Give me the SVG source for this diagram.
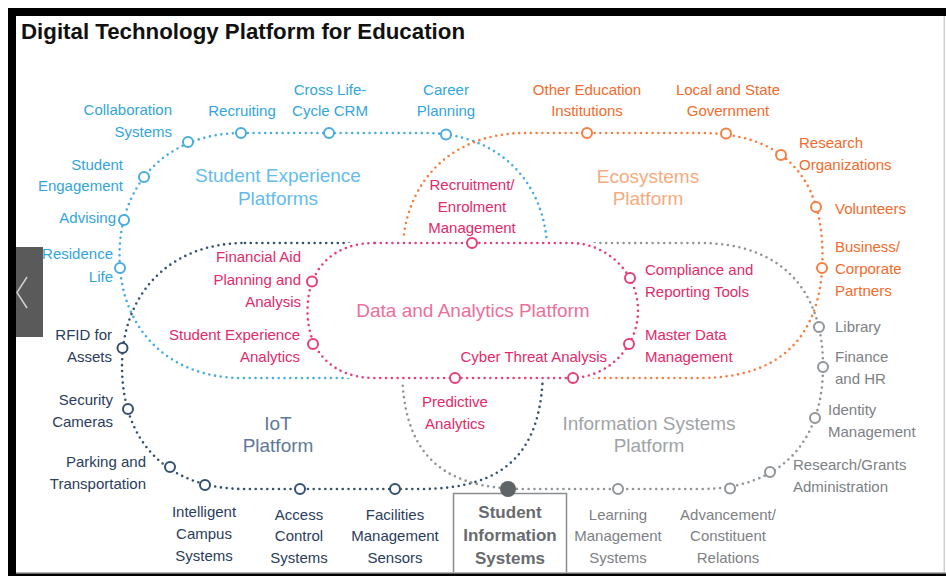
<svg xmlns="http://www.w3.org/2000/svg" width="946" height="576" viewBox="0 0 946 576">
<defs>
<style>
text{font-family:"Liberation Sans",Arial,Helvetica,sans-serif;font-size:15px}
.title{font-size:21.5px;font-weight:bold;fill:#111}
.plat{font-size:19px}
.e{text-anchor:end}
.m{text-anchor:middle}
.loop{fill:none;stroke-width:2.6;stroke-linecap:round;stroke-dasharray:0 5.8}
.n{fill:#fff;stroke-width:2}
.sb{stroke:#48acdf}.fb{fill:#33a5dd}.pb{fill:#64bde8}
.so{stroke:#f57e43}.fo{fill:#f26b2d}.po{fill:#f6ab80}
.sp{stroke:#e43f78}.fp{fill:#e22a6b}.pp{fill:#ec6f9a}
.sn{stroke:#34506f}.fn{fill:#2a3d5a}.pn{fill:#607997}
.sg{stroke:#8f9498}.fg{fill:#7d8185}.pg{fill:#9fa3a6}
.sis{font-size:17px;font-weight:bold;fill:#676b6f}
</style>
<!-- shape of the Data and Analytics core -->
<path id="core" d="M375,243 L570.5,243 C607.6,243 638,273.4 638,310.5 C638,347.6 607.6,378 570.5,378 L375,378 C333.1,378 307.5,352.4 307.5,310.5 C307.5,268.6 333.1,243 375,243 Z"/>
<mask id="hideCore" maskUnits="userSpaceOnUse" x="0" y="0" width="946" height="576">
<rect width="946" height="576" fill="#fff"/>
<use href="#core" fill="#000" stroke="#000" stroke-width="8"/>
</mask>
</defs>

<rect width="946" height="576" fill="#fff"/>

<text class="title" x="21" y="39" textLength="444" lengthAdjust="spacingAndGlyphs">Digital Technology Platform for Education</text>

<!-- platform loops -->
<g id="connectors">
<g mask="url(#hideCore)">
<path id="loop-student" class="loop sb" d="M242,133 L425,133 C498.5,133 547.5,182 547.5,255.5 C547.5,329 498.5,378 425,378 L242,378 C168.5,378 119.5,329 119.5,255.5 C119.5,182 168.5,133 242,133 Z"/>
<path id="loop-eco" class="loop so" d="M525,133 L700,133 C780.9,133 822.5,174.6 822.5,255.5 C822.5,336.4 780.9,378 700,378 L525,378 C451.5,378 402.5,329 402.5,255.5 C402.5,182 451.5,133 525,133 Z"/>
<path id="loop-iot" class="loop sn" d="M245,243 L420,243 C506.1,243 543,279.9 543,366 C543,452.1 506.1,489 420,489 L245,489 C168,489 122,443 122,366 C122,292.2 171.2,243 245,243 Z"/>
<path id="loop-info" class="loop sg" d="M525,243 L700,243 C778.7,243 823,287.3 823,366 C823,444.7 778.7,489 700,489 L525,489 C438.9,489 402,452.1 402,366 C402,279.9 438.9,243 525,243 Z"/>
</g>
<use id="loop-data" href="#core" class="loop sp"/>
</g>

<!-- platform titles -->
<g id="platform-student"><text class="plat pb m" x="278" y="182">Student Experience<tspan x="278" y="205">Platforms</tspan></text></g>
<g id="platform-eco"><text class="plat po m" x="648" y="183">Ecosystems<tspan x="648" y="205">Platform</tspan></text></g>
<g id="platform-data"><text class="plat pp m" x="473" y="317">Data and Analytics Platform</text></g>
<g id="platform-iot"><text class="plat pn m" x="278" y="430">IoT<tspan x="278" y="452">Platform</tspan></text></g>
<g id="platform-info"><text class="plat pg m" x="649" y="430">Information Systems<tspan x="649" y="452">Platform</tspan></text></g>

<!-- Student Experience nodes -->
<g id="n-collaboration"><circle class="n sb" cx="188" cy="142" r="5"/><text class="fb e" x="172" y="115">Collaboration<tspan x="172" y="137">Systems</tspan></text></g>
<g id="n-recruiting"><circle class="n sb" cx="241" cy="133" r="5"/><text class="fb m" x="242" y="116">Recruiting</text></g>
<g id="n-crm"><circle class="n sb" cx="329" cy="133" r="5"/><text class="fb m" x="330" y="95">Cross Life-<tspan x="330" y="116">Cycle CRM</tspan></text></g>
<g id="n-career"><circle class="n sb" cx="446" cy="134.5" r="5"/><text class="fb m" x="446" y="95">Career<tspan x="446" y="116">Planning</tspan></text></g>
<g id="n-engagement"><circle class="n sb" cx="144" cy="177" r="5"/><text class="fb e" x="123" y="170">Student<tspan x="123" y="191">Engagement</tspan></text></g>
<g id="n-advising"><circle class="n sb" cx="124" cy="220" r="5"/><text class="fb e" x="116" y="223">Advising</text></g>
<g id="n-residence"><circle class="n sb" cx="120" cy="268" r="5"/><text class="fb e" x="113" y="259">Residence<tspan x="113" y="282">Life</tspan></text></g>

<!-- Ecosystems nodes -->
<g id="n-other-edu"><circle class="n so" cx="587" cy="133" r="5"/><text class="fo m" x="587" y="95">Other Education<tspan x="587" y="116">Institutions</tspan></text></g>
<g id="n-government"><circle class="n so" cx="726" cy="133.5" r="5"/><text class="fo m" x="728" y="95">Local and State<tspan x="728" y="116">Government</tspan></text></g>
<g id="n-research-org"><circle class="n so" cx="781" cy="155" r="5"/><text class="fo" x="799" y="148">Research<tspan x="799" y="170">Organizations</tspan></text></g>
<g id="n-volunteers"><circle class="n so" cx="816" cy="207" r="5"/><text class="fo" x="835" y="214">Volunteers</text></g>
<g id="n-business"><circle class="n so" cx="822" cy="268" r="5"/><text class="fo" x="835" y="252">Business/<tspan x="835" y="274">Corporate</tspan><tspan x="835" y="296">Partners</tspan></text></g>

<!-- Data and Analytics nodes -->
<g id="n-recruitment"><circle class="n sp" cx="472" cy="243" r="5"/><text class="fp m" x="472" y="190">Recruitment/<tspan x="472" y="212">Enrolment</tspan><tspan x="472" y="233">Management</tspan></text></g>
<g id="n-financial-aid"><circle class="n sp" cx="312" cy="281.5" r="5"/><text class="fp e" x="301" y="262">Financial Aid<tspan x="301" y="285">Planning and</tspan><tspan x="301" y="307">Analysis</tspan></text></g>
<g id="n-sx-analytics"><circle class="n sp" cx="313" cy="344" r="5"/><text class="fp e" x="300" y="340">Student Experience<tspan x="300" y="362">Analytics</tspan></text></g>
<g id="n-compliance"><circle class="n sp" cx="630" cy="278" r="5"/><text class="fp" x="645" y="275">Compliance and<tspan x="645" y="297">Reporting Tools</tspan></text></g>
<g id="n-master-data"><circle class="n sp" cx="629" cy="344" r="5"/><text class="fp" x="645" y="340">Master Data<tspan x="645" y="362">Management</tspan></text></g>
<g id="n-predictive"><circle class="n sp" cx="455" cy="378" r="5"/><text class="fp m" x="455" y="407">Predictive<tspan x="455" y="429">Analytics</tspan></text></g>
<g id="n-cyber"><circle class="n sp" cx="573" cy="378" r="5"/><text class="fp e" x="607" y="362">Cyber Threat Analysis</text></g>

<!-- IoT nodes -->
<g id="n-rfid"><circle class="n sn" cx="122.5" cy="348" r="5"/><text class="fn e" x="112" y="340">RFID for<tspan x="112" y="362">Assets</tspan></text></g>
<g id="n-security"><circle class="n sn" cx="128" cy="409" r="5"/><text class="fn e" x="113" y="405">Security<tspan x="113" y="427">Cameras</tspan></text></g>
<g id="n-parking"><circle class="n sn" cx="170" cy="467" r="5"/><text class="fn e" x="146" y="467">Parking and<tspan x="146" y="489">Transportation</tspan></text></g>
<g id="n-campus"><circle class="n sn" cx="205" cy="485" r="5"/><text class="fn m" x="204" y="517">Intelligent<tspan x="204" y="539">Campus</tspan><tspan x="204" y="561">Systems</tspan></text></g>
<g id="n-access"><circle class="n sn" cx="300" cy="489" r="5"/><text class="fn m" x="299" y="520">Access<tspan x="299" y="541">Control</tspan><tspan x="299" y="563">Systems</tspan></text></g>
<g id="n-facilities"><circle class="n sn" cx="395" cy="489" r="5"/><text class="fn m" x="395" y="520">Facilities<tspan x="395" y="541">Management</tspan><tspan x="395" y="563">Sensors</tspan></text></g>

<!-- Information Systems nodes -->
<g id="n-library"><circle class="n sg" cx="819" cy="327" r="5"/><text class="fg" x="835" y="332">Library</text></g>
<g id="n-finance"><circle class="n sg" cx="823" cy="367" r="5"/><text class="fg" x="835" y="362">Finance<tspan x="835" y="384">and HR</tspan></text></g>
<g id="n-identity"><circle class="n sg" cx="815" cy="418" r="5"/><text class="fg" x="828" y="415">Identity<tspan x="828" y="437">Management</tspan></text></g>
<g id="n-grants"><circle class="n sg" cx="770" cy="472" r="5"/><text class="fg" x="793" y="470">Research/Grants<tspan x="793" y="492">Administration</tspan></text></g>
<g id="n-advancement"><circle class="n sg" cx="730" cy="488.5" r="5"/><text class="fg m" x="728" y="520">Advancement/<tspan x="728" y="541">Constituent</tspan><tspan x="728" y="563">Relations</tspan></text></g>
<g id="n-lms"><circle class="n sg" cx="618" cy="489" r="5"/><text class="fg m" x="618" y="520">Learning<tspan x="618" y="541">Management</tspan><tspan x="618" y="563">Systems</tspan></text></g>
<g id="n-sis">
<rect x="453.5" y="493.5" width="113" height="90" fill="#fff" stroke="#8a8d90" stroke-width="1.5"/>
<circle cx="508" cy="489" r="8" fill="#5f6467"/>
<text class="sis m" x="510" y="518">Student<tspan x="510" y="541">Information</tspan><tspan x="510" y="564">Systems</tspan></text>
</g>

<!-- viewer frame -->
<g id="frame">
<rect x="8" y="8" width="938" height="8" fill="#000"/>
<rect x="8" y="8" width="8" height="568" fill="#000"/>
<rect x="16" y="572" width="930" height="1.5" fill="#b4b4b4"/>
<rect x="8" y="573.5" width="938" height="2.5" fill="#000"/>
<rect x="943.5" y="16" width="1.5" height="556" fill="#d2d2d2"/>
<rect x="16" y="247" width="27" height="90" fill="#5a5a5a"/>
<polyline points="27,277 17,292.5 27,308" fill="none" stroke="#d0d0d0" stroke-width="1.5"/>
</g>
</svg>
